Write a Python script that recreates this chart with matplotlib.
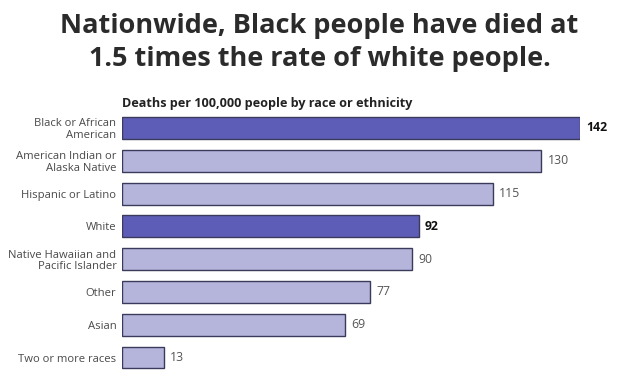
import matplotlib
matplotlib.use("Agg")
import matplotlib.pyplot as plt

categories = ["Black or African\nAmerican", "American Indian or\nAlaska Native", "Hispanic or Latino",
              "White", "Native Hawaiian and\nPacific Islander", "Other", "Asian", "Two or more races"]
values = [142, 130, 115, 92, 90, 77, 69, 13]
highlight = [True, False, False, True, False, False, False, False]

dark = "#5d5db8"
light = "#b5b5dc"
edge = "#3a3a5a"

plt.rcParams['font.family'] = ['Open Sans', 'DejaVu Sans']

fig = plt.figure(figsize=(6.39, 3.84), dpi=100)
fig.patch.set_facecolor("white")
W, H = 639, 384
ax_left, ax_right = 122, 580
ax_top, ax_bot = 111.6, 373.9
ax = fig.add_axes([ax_left / W, 1 - ax_bot / H, (ax_right - ax_left) / W, (ax_bot - ax_top) / H])

ys = list(range(len(values)))
colors = [dark if h else light for h in highlight]
ax.barh(ys, values, height=0.67, color=colors, edgecolor=edge, linewidth=1.0)
ax.set_xlim(0, 142)
ax.set_ylim(len(values) - 0.5, -0.5)
for s in ax.spines.values():
    s.set_visible(False)
ax.set_xticks([])
ax.set_yticks(ys)
ax.set_yticklabels(categories, fontsize=8.1, color="#4a4a4a", linespacing=1.1)
ax.tick_params(axis="y", length=0, pad=4)
for l in ax.get_yticklabels():
    l.set_horizontalalignment("right")
    l.set_multialignment("right")

for y, v, h in zip(ys, values, highlight):
    ax.annotate(str(v), xy=(v, y), xytext=(4.5, 0), textcoords="offset points",
                va="center", ha="left", fontsize=8.8,
                fontweight="bold" if h else "normal",
                color="#111111" if h else "#555555", annotation_clip=False)

fig.text(0.5, 1 - 26 / H, "Nationwide, Black people have died at", ha="center", va="center",
         fontsize=19.5, fontweight="bold", color="#2b2b2b")
fig.text(0.5, 1 - 59 / H, "1.5 times the rate of white people.", ha="center", va="center",
         fontsize=19.5, fontweight="bold", color="#2b2b2b")
fig.text(122 / W, 1 - 103 / H, "Deaths per 100,000 people by race or ethnicity", ha="left", va="center",
         fontsize=9.1, fontweight="bold", color="#222222")

fig.savefig("out.png", dpi=100, facecolor="white")
